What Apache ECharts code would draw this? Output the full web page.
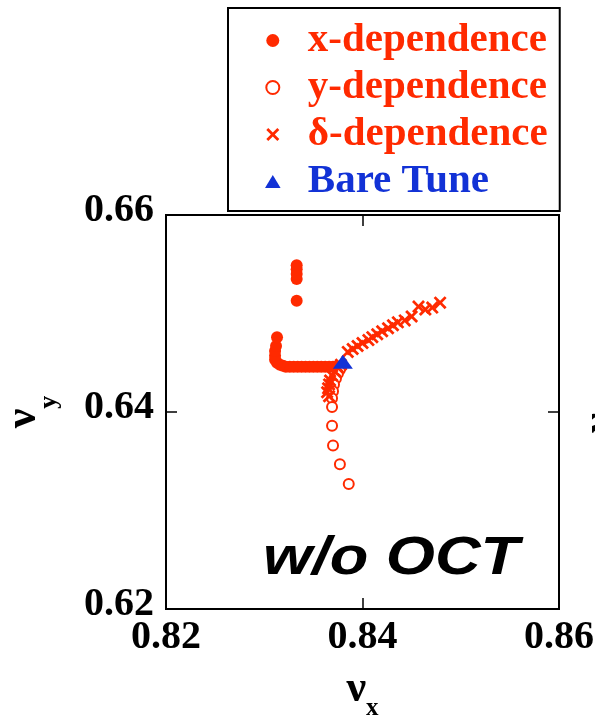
<!DOCTYPE html>
<html>
<head>
<meta charset="utf-8">
<script src="https://cdn.jsdelivr.net/npm/echarts@6/dist/echarts.min.js"></script>
<style>
  html, body { margin: 0; padding: 0; background: #fff; }
  #chart { width: 595px; height: 717px; }
</style>
</head>
<body>
<div id="chart"></div>
<script>
// ---- data ----
const seriesNames = ['x-dependence', 'y-dependence', 'δ-dependence', 'Bare Tune'];

const xDepNux = [0.8374, 0.8370, 0.8366, 0.8362, 0.8358, 0.8354, 0.8350, 0.8346, 0.8342, 0.8338,
                 0.8334, 0.8330, 0.8326, 0.8322, 0.8319, 0.8316, 0.8313, 0.8311, 0.8311, 0.8311,
                 0.8312, 0.8313, 0.8333, 0.8333, 0.8333, 0.8333, 0.8333];
const xDepNuy = [0.6446, 0.6446, 0.6446, 0.6446, 0.6446, 0.6446, 0.6446, 0.6446, 0.6446, 0.6446,
                 0.6446, 0.6446, 0.6446, 0.6446, 0.6447, 0.6448, 0.6450, 0.6453, 0.6457, 0.6462,
                 0.6467, 0.6476, 0.6513, 0.6535, 0.6540, 0.6545, 0.6549];

const yDepNux = [0.8379, 0.8377, 0.8375, 0.8373, 0.8371, 0.8370, 0.8369, 0.8369, 0.8369, 0.8370, 0.8377, 0.8386];
const yDepNuy = [0.6447, 0.6443, 0.6439, 0.6434, 0.6428, 0.6421, 0.6414, 0.6405, 0.6386, 0.6366, 0.6347, 0.6327];

const dDepNux = [0.8366, 0.8364, 0.8365, 0.8366, 0.8367, 0.8369, 0.8372, 0.8375, 0.8378,
                 0.8385, 0.8390, 0.8395, 0.8400, 0.8406, 0.8410, 0.8415, 0.8420, 0.8426, 0.8431,
                 0.8436, 0.8443, 0.8450, 0.8457, 0.8464, 0.8471, 0.8479];
const dDepNuy = [0.6416, 0.6420, 0.6424, 0.6428, 0.6432, 0.6437, 0.6441, 0.6445, 0.6448,
                 0.6461, 0.6464, 0.6467, 0.6470, 0.6473, 0.6476, 0.6479, 0.6482, 0.6485, 0.6488,
                 0.6491, 0.6493, 0.6497, 0.6507, 0.6504, 0.6506, 0.6511];

const bareNux = [0.8380];
const bareNuy = [0.6451];

const xTicks = [0.82, 0.84, 0.86];
const yTicks = [0.62, 0.64, 0.66];

const panelLabel = 'w/o OCT';

// ---- styles ----
const RED = '#ff2a00';
const BLUE = '#1232d6';
const SERIF = '"Liberation Serif", "Times New Roman", serif';
const SANS = '"Liberation Sans", Arial, sans-serif';
const CROSS = 'path://M0,1.5L1.5,0L5,3.5L8.5,0L10,1.5L6.5,5L10,8.5L8.5,10L5,6.5L1.5,10L0,8.5L3.5,5Z';
const TRI = 'path://M6,0L12,10L0,10Z';

function pairs(xs, ys) { return xs.map((v, i) => [v, ys[i]]); }

const chart = echarts.init(document.getElementById('chart'), null, { renderer: 'canvas' });

const axisCommon = {
  type: 'value',
  splitLine: { show: false },
  axisLine: { show: true, onZero: false, lineStyle: { color: '#000', width: 2 } },
  axisTick: { show: true, inside: true, length: 11, lineStyle: { color: '#000', width: 1.5 } }
};

chart.setOption({
  animation: false,
  backgroundColor: '#fff',
  graphic: [
    {
      type: 'text', x: 263, y: 559, scaleX: 1.17, scaleY: 1, z: 10,
      style: { text: panelLabel, fontFamily: SANS, fontWeight: 'bold', fontStyle: 'italic', fontSize: 54,
               fill: '#000', align: 'left', verticalAlign: 'middle' }
    },
    {
      type: 'text', x: 601, y: 423, rotation: Math.PI / 2, z: 10,
      style: { text: 'ν', fontFamily: SERIF, fontWeight: 'bold', fontSize: 44, fill: '#000',
               align: 'center', verticalAlign: 'middle' }
    }
  ],
  legend: {
    orient: 'vertical',
    left: 228, top: 8,
    padding: [12, 12, 9, 37],
    itemWidth: 60, itemHeight: 13, itemGap: 6,
    borderColor: '#000', borderWidth: 2,
    backgroundColor: '#fff',
    selectedMode: false,
    textStyle: { fontFamily: SERIF, fontWeight: 'bold', fontSize: 41, lineHeight: 40 },
    data: [
      { name: seriesNames[0], textStyle: { color: RED } },
      { name: seriesNames[1], textStyle: { color: RED } },
      { name: seriesNames[2], textStyle: { color: RED } },
      { name: seriesNames[3], textStyle: { color: BLUE } }
    ]
  },
  grid: {
    left: 166, top: 215, right: 36, bottom: 108,
    containLabel: false, outerBoundsMode: 'none',
    show: true, borderColor: '#000', borderWidth: 2, backgroundColor: 'transparent'
  },
  xAxis: [
    Object.assign({}, axisCommon, {
      position: 'bottom', min: xTicks[0], max: xTicks[2], interval: 0.02,
      axisLabel: { margin: 9, fontFamily: SERIF, fontWeight: 'bold', fontSize: 40, color: '#000',
                   formatter: v => v.toFixed(2) },
      name: '{a|ν}{b|x}', nameLocation: 'middle', nameGap: 49,
      nameTextStyle: {
        rich: {
          a: { fontFamily: SERIF, fontWeight: 'bold', fontSize: 44, color: '#000' },
          b: { fontFamily: SERIF, fontWeight: 'bold', fontSize: 25, color: '#000', padding: [38, 0, 0, 0] }
        }
      }
    }),
    Object.assign({}, axisCommon, {
      position: 'top', min: xTicks[0], max: xTicks[2], interval: 0.02,
      axisLabel: { show: false }
    })
  ],
  yAxis: [
    Object.assign({}, axisCommon, {
      position: 'left', min: yTicks[0], max: yTicks[2], interval: 0.02,
      axisLabel: { margin: 12, fontFamily: SERIF, fontWeight: 'bold', fontSize: 40, color: '#000',
                   verticalAlign: 'bottom', lineHeight: 8, formatter: v => v.toFixed(2) },
      name: '{a|ν}{b|y}', nameLocation: 'middle', nameGap: 104,
      nameTextStyle: {
        rich: {
          a: { fontFamily: SERIF, fontWeight: 'bold', fontSize: 44, color: '#000' },
          b: { fontFamily: SERIF, fontWeight: 'bold', fontSize: 26, color: '#000', padding: [50, 0, 0, 0] }
        }
      }
    }),
    Object.assign({}, axisCommon, {
      position: 'right', min: yTicks[0], max: yTicks[2], interval: 0.02,
      axisLabel: { show: false }
    })
  ],
  series: [
    {
      name: seriesNames[0], type: 'scatter', symbol: 'circle', symbolSize: 12, symbolKeepAspect: true,
      itemStyle: { color: RED, opacity: 1 },
      data: pairs(xDepNux, xDepNuy)
    },
    {
      name: seriesNames[1], type: 'scatter', symbol: 'emptyCircle', symbolSize: 10, symbolKeepAspect: true,
      itemStyle: { color: RED, borderColor: RED, borderWidth: 1.6, opacity: 1 },
      data: pairs(yDepNux, yDepNuy)
    },
    {
      name: seriesNames[2], type: 'scatter', symbol: CROSS, symbolSize: 13, symbolKeepAspect: true,
      itemStyle: { color: RED, opacity: 1 },
      data: pairs(dDepNux, dDepNuy)
    },
    {
      name: seriesNames[3], type: 'scatter', symbol: TRI, symbolSize: [20, 17], symbolKeepAspect: true,
      itemStyle: { color: BLUE, opacity: 1 },
      data: pairs(bareNux, bareNuy)
    }
  ]
});
</script>
</body>
</html>
